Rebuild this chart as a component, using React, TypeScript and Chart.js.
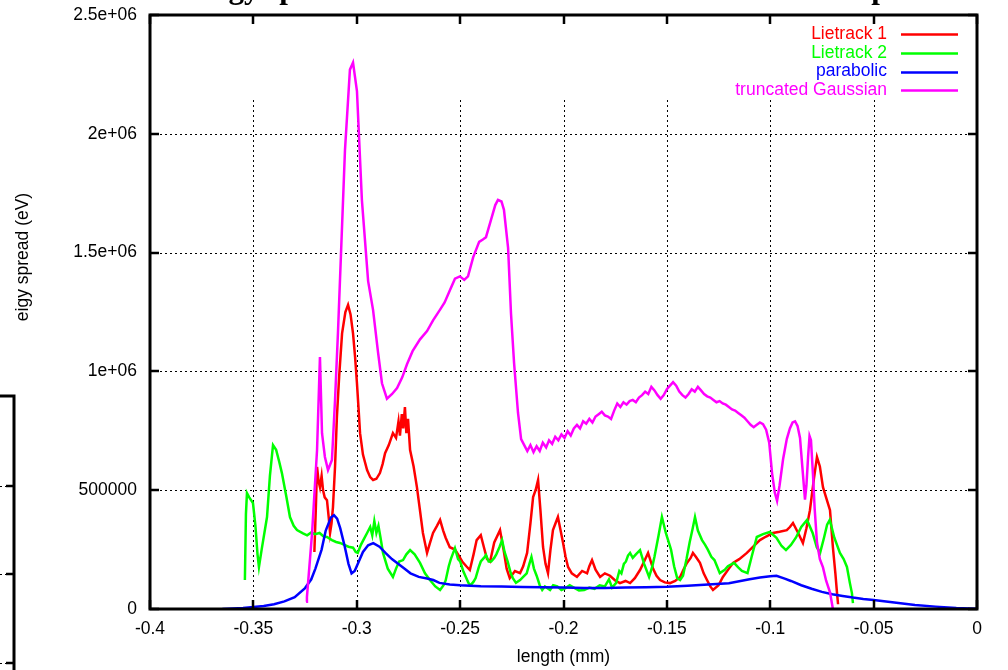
import React, { useEffect, useRef } from "react";
import { Chart, registerables } from "chart.js";

Chart.register(...registerables);

const titleText = "Energy spread at the end of the linac for different shapes";
const xAxisTitle = "length (mm)";
const yAxisTitle = "eigy spread (eV)";
const seriesNames = ["Lietrack 1", "Lietrack 2", "parabolic", "truncated Gaussian"];
const seriesColors = ["#ff0000", "#00ff00", "#0000ff", "#ff00ff"];
const xTickValues = [-0.4, -0.35, -0.3, -0.25, -0.2, -0.15, -0.1, -0.05, 0];
const xTickLabels = ["-0.4", "-0.35", "-0.3", "-0.25", "-0.2", "-0.15", "-0.1", "-0.05", "0"];
const yTickValues = [0, 500000, 1000000, 1500000, 2000000, 2500000];
const yTickLabels = ["0", "500000", "1e+06", "1.5e+06", "2e+06", "2.5e+06"];

const lietrack1Points: [number, number][] = [
  [-0.3205, 240000], [-0.3198, 420000], [-0.3192, 598000], [-0.3185, 540000], [-0.3178, 513000],
  [-0.317, 560000], [-0.3163, 500000], [-0.3155, 470000], [-0.3144, 458000], [-0.3135, 380000],
  [-0.3129, 320000], [-0.3122, 360000], [-0.3115, 429000], [-0.3105, 600000], [-0.3096, 808000],
  [-0.3085, 980000], [-0.3071, 1160000], [-0.3055, 1250000], [-0.3042, 1280000], [-0.303, 1240000],
  [-0.3018, 1160000], [-0.3008, 1060000], [-0.2999, 950000], [-0.2991, 840000], [-0.2984, 740000],
  [-0.297, 650000], [-0.295, 585000], [-0.2935, 555000], [-0.2921, 543000], [-0.2905, 548000],
  [-0.2888, 572000], [-0.2875, 610000], [-0.2863, 656000], [-0.2845, 690000], [-0.2825, 740000],
  [-0.281, 720000], [-0.2798, 790000], [-0.2791, 730000], [-0.2782, 820000], [-0.2775, 760000],
  [-0.2767, 850000], [-0.276, 740000], [-0.2752, 800000], [-0.2742, 669000], [-0.2725, 600000],
  [-0.2709, 513000], [-0.2695, 420000], [-0.268, 320000], [-0.266, 236000], [-0.2645, 280000],
  [-0.2631, 320000], [-0.2612, 350000], [-0.2597, 375000], [-0.2582, 330000], [-0.257, 300000],
  [-0.255, 260000], [-0.2525, 250000], [-0.251, 230000], [-0.249, 200000], [-0.247, 180000],
  [-0.2453, 164000], [-0.2435, 230000], [-0.242, 290000], [-0.24, 311000], [-0.2385, 260000],
  [-0.237, 210000], [-0.2355, 200000], [-0.2335, 280000], [-0.2307, 332000], [-0.229, 250000],
  [-0.2275, 170000], [-0.226, 130000], [-0.2235, 160000], [-0.221, 151000], [-0.2195, 180000],
  [-0.2176, 236000], [-0.216, 360000], [-0.2147, 471000], [-0.2135, 500000], [-0.2123, 543000],
  [-0.2112, 420000], [-0.2099, 261000], [-0.2087, 190000], [-0.2075, 151000], [-0.2063, 250000],
  [-0.2051, 332000], [-0.2039, 360000], [-0.2027, 387000], [-0.2014, 330000], [-0.2002, 278000],
  [-0.199, 220000], [-0.1978, 177000], [-0.196, 150000], [-0.1935, 135000], [-0.191, 160000],
  [-0.1886, 150000], [-0.1875, 180000], [-0.1862, 206000], [-0.1845, 165000], [-0.1823, 135000],
  [-0.18, 150000], [-0.1775, 140000], [-0.175, 120000], [-0.1727, 109000], [-0.17, 118000],
  [-0.1678, 109000], [-0.1655, 130000], [-0.163, 164000], [-0.161, 200000], [-0.1591, 236000],
  [-0.1578, 200000], [-0.1567, 170000], [-0.155, 140000], [-0.1533, 122000], [-0.151, 112000],
  [-0.1485, 109000], [-0.146, 118000], [-0.1436, 135000], [-0.142, 165000], [-0.1403, 194000],
  [-0.1385, 215000], [-0.1374, 236000], [-0.136, 220000], [-0.134, 194000], [-0.1322, 150000],
  [-0.1306, 122000], [-0.129, 95000], [-0.1277, 80000], [-0.125, 100000], [-0.1229, 135000],
  [-0.12, 170000], [-0.118, 194000], [-0.115, 210000], [-0.1113, 236000], [-0.108, 265000],
  [-0.105, 290000], [-0.102, 305000], [-0.0987, 320000], [-0.0955, 325000], [-0.092, 332000],
  [-0.0905, 345000], [-0.089, 362000], [-0.0865, 320000], [-0.0842, 278000], [-0.0825, 340000],
  [-0.0808, 416000], [-0.079, 540000], [-0.0774, 640000], [-0.076, 600000], [-0.0745, 513000],
  [-0.073, 470000], [-0.0711, 416000], [-0.0697, 260000], [-0.0685, 150000], [-0.0677, 67000],
  [-0.0672, 20000],
];

const lietrack2Points: [number, number][] = [
  [-0.3541, 122000], [-0.3536, 400000], [-0.3531, 488000], [-0.352, 470000], [-0.3502, 446000],
  [-0.349, 350000], [-0.348, 230000], [-0.3473, 177000], [-0.346, 250000], [-0.3434, 387000],
  [-0.342, 560000], [-0.3405, 690000], [-0.339, 670000], [-0.3375, 620000], [-0.3362, 572000],
  [-0.334, 470000], [-0.3323, 387000], [-0.3305, 350000], [-0.3289, 332000], [-0.326, 318000],
  [-0.324, 310000], [-0.322, 322000], [-0.3202, 315000], [-0.318, 320000], [-0.316, 305000],
  [-0.3144, 303000], [-0.312, 290000], [-0.31, 282000], [-0.3081, 278000], [-0.306, 270000],
  [-0.304, 262000], [-0.3018, 258000], [-0.3005, 240000], [-0.2995, 236000], [-0.298, 270000],
  [-0.2965, 295000], [-0.295, 320000], [-0.2935, 345000], [-0.2925, 310000], [-0.2915, 370000],
  [-0.2905, 320000], [-0.2895, 350000], [-0.2885, 300000], [-0.2873, 236000], [-0.285, 170000],
  [-0.2825, 135000], [-0.281, 170000], [-0.2795, 200000], [-0.2776, 206000], [-0.276, 230000],
  [-0.2742, 248000], [-0.272, 230000], [-0.2694, 194000], [-0.267, 150000], [-0.2646, 122000],
  [-0.262, 95000], [-0.2597, 80000], [-0.258, 100000], [-0.257, 120000], [-0.2555, 180000],
  [-0.2545, 210000], [-0.2525, 256000], [-0.251, 210000], [-0.25, 200000], [-0.2485, 160000],
  [-0.2475, 140000], [-0.246, 110000], [-0.245, 100000], [-0.2435, 115000], [-0.2425, 130000],
  [-0.241, 175000], [-0.24, 200000], [-0.2385, 215000], [-0.2375, 227000], [-0.2362, 200000],
  [-0.235, 200000], [-0.2335, 215000], [-0.2325, 230000], [-0.231, 260000], [-0.2297, 290000],
  [-0.2285, 240000], [-0.227, 200000], [-0.2255, 150000], [-0.2245, 130000], [-0.223, 110000],
  [-0.221, 122000], [-0.2195, 135000], [-0.2178, 150000], [-0.2165, 190000], [-0.2155, 219000],
  [-0.2143, 170000], [-0.213, 140000], [-0.2115, 100000], [-0.2103, 80000], [-0.209, 95000],
  [-0.2065, 80000], [-0.205, 100000], [-0.203, 95000], [-0.201, 80000], [-0.199, 88000],
  [-0.197, 100000], [-0.195, 90000], [-0.1925, 78000], [-0.19, 80000], [-0.1875, 90000],
  [-0.185, 85000], [-0.1825, 100000], [-0.18, 95000], [-0.178, 125000], [-0.1765, 90000],
  [-0.1745, 110000], [-0.173, 160000], [-0.172, 150000], [-0.1708, 190000], [-0.1698, 200000],
  [-0.1688, 225000], [-0.1678, 236000], [-0.1665, 215000], [-0.165, 230000], [-0.163, 248000],
  [-0.161, 190000], [-0.1586, 135000], [-0.157, 180000], [-0.156, 220000], [-0.154, 310000],
  [-0.1524, 387000], [-0.1505, 320000], [-0.148, 250000], [-0.1465, 180000], [-0.145, 130000],
  [-0.1436, 122000], [-0.1422, 140000], [-0.1405, 210000], [-0.139, 280000], [-0.1375, 340000],
  [-0.1364, 387000], [-0.135, 330000], [-0.133, 290000], [-0.1315, 270000], [-0.1302, 250000],
  [-0.1285, 220000], [-0.127, 206000], [-0.1255, 175000], [-0.1244, 151000], [-0.122, 165000],
  [-0.1205, 180000], [-0.1175, 194000], [-0.1155, 175000], [-0.1137, 160000], [-0.111, 151000],
  [-0.109, 220000], [-0.1065, 303000], [-0.1035, 315000], [-0.1002, 324000], [-0.097, 300000],
  [-0.0945, 265000], [-0.0924, 248000], [-0.09, 270000], [-0.0876, 300000], [-0.085, 345000],
  [-0.0822, 375000], [-0.0795, 320000], [-0.0775, 260000], [-0.0759, 236000], [-0.074, 300000],
  [-0.0725, 355000], [-0.0712, 375000], [-0.069, 300000], [-0.0663, 236000], [-0.0645, 210000],
  [-0.0629, 177000], [-0.0615, 110000], [-0.0605, 67000], [-0.06, 25000],
];

const parabolicPoints: [number, number][] = [
  [-0.365, 0], [-0.36, 2000], [-0.355, 4000], [-0.35, 8000], [-0.345, 13000], [-0.34, 20000],
  [-0.335, 32000], [-0.33, 50000], [-0.325, 88000], [-0.322, 125000], [-0.32, 170000],
  [-0.317, 250000], [-0.315, 330000], [-0.3125, 385000], [-0.311, 395000], [-0.3095, 380000],
  [-0.308, 340000], [-0.306, 270000], [-0.304, 190000], [-0.3025, 150000], [-0.301, 160000],
  [-0.299, 200000], [-0.297, 240000], [-0.2945, 268000], [-0.292, 277000], [-0.289, 262000],
  [-0.286, 235000], [-0.283, 210000], [-0.28, 190000], [-0.277, 170000], [-0.274, 150000],
  [-0.27, 135000], [-0.266, 128000], [-0.263, 122000], [-0.26, 110000], [-0.255, 103000],
  [-0.25, 100000], [-0.24, 96000], [-0.23, 95000], [-0.22, 93000], [-0.21, 92000], [-0.2, 90000],
  [-0.19, 88000], [-0.18, 88000], [-0.17, 90000], [-0.16, 92000], [-0.15, 94000], [-0.14, 98000],
  [-0.13, 103000], [-0.12, 108000], [-0.11, 125000], [-0.105, 133000], [-0.1, 138000],
  [-0.097, 140000], [-0.093, 128000], [-0.09, 118000], [-0.085, 100000], [-0.08, 85000],
  [-0.075, 72000], [-0.07, 62000], [-0.065, 55000], [-0.06, 48000], [-0.055, 42000],
  [-0.05, 38000], [-0.04, 27000], [-0.03, 17000], [-0.02, 10000], [-0.01, 4000], [0, 1000],
];

const truncatedGaussianPoints: [number, number][] = [
  [-0.3245, 30000], [-0.3241, 50000], [-0.3216, 320000], [-0.3192, 669000], [-0.3178, 1060000],
  [-0.3168, 740000], [-0.3154, 640000], [-0.3139, 585000], [-0.312, 627000], [-0.3105, 879000],
  [-0.3091, 1160000], [-0.3057, 1930000], [-0.3033, 2270000], [-0.3018, 2300000], [-0.2999, 2180000],
  [-0.2975, 1720000], [-0.2945, 1380000], [-0.2921, 1258000], [-0.2897, 1080000], [-0.2878, 950000],
  [-0.2854, 885000], [-0.2829, 905000], [-0.2805, 930000], [-0.278, 975000], [-0.2757, 1030000],
  [-0.273, 1085000], [-0.2694, 1135000], [-0.266, 1170000], [-0.2631, 1215000], [-0.2597, 1260000],
  [-0.2575, 1290000], [-0.255, 1340000], [-0.2525, 1390000], [-0.2501, 1400000], [-0.248, 1385000],
  [-0.2462, 1400000], [-0.2437, 1480000], [-0.2408, 1545000], [-0.239, 1555000], [-0.2375, 1565000],
  [-0.235, 1640000], [-0.233, 1700000], [-0.2317, 1722000], [-0.23, 1715000], [-0.2288, 1680000],
  [-0.2268, 1520000], [-0.2254, 1245000], [-0.2239, 1035000], [-0.222, 825000], [-0.2205, 715000],
  [-0.219, 690000], [-0.2175, 665000], [-0.216, 690000], [-0.2145, 660000], [-0.213, 685000],
  [-0.2115, 665000], [-0.21, 700000], [-0.2084, 680000], [-0.207, 710000], [-0.2055, 695000],
  [-0.204, 725000], [-0.2025, 710000], [-0.201, 735000], [-0.1995, 720000], [-0.198, 748000],
  [-0.1965, 730000], [-0.195, 760000], [-0.1935, 775000], [-0.192, 760000], [-0.1905, 790000],
  [-0.189, 780000], [-0.1875, 800000], [-0.186, 785000], [-0.1845, 810000], [-0.183, 820000],
  [-0.1815, 830000], [-0.18, 815000], [-0.1785, 810000], [-0.177, 800000], [-0.1755, 835000],
  [-0.174, 865000], [-0.1725, 850000], [-0.171, 870000], [-0.1695, 860000], [-0.168, 875000],
  [-0.1665, 880000], [-0.165, 870000], [-0.1635, 890000], [-0.162, 900000], [-0.1605, 915000],
  [-0.159, 905000], [-0.1575, 935000], [-0.156, 920000], [-0.1545, 900000], [-0.153, 885000],
  [-0.1515, 900000], [-0.15, 925000], [-0.1485, 940000], [-0.147, 955000], [-0.1455, 940000],
  [-0.144, 915000], [-0.1425, 900000], [-0.141, 890000], [-0.1395, 905000], [-0.138, 925000],
  [-0.1365, 915000], [-0.135, 935000], [-0.1335, 920000], [-0.132, 905000], [-0.1305, 895000],
  [-0.129, 890000], [-0.1275, 880000], [-0.126, 870000], [-0.1245, 875000], [-0.123, 865000],
  [-0.1215, 860000], [-0.12, 850000], [-0.1185, 840000], [-0.117, 835000], [-0.1155, 825000],
  [-0.114, 815000], [-0.1125, 805000], [-0.111, 790000], [-0.1095, 775000], [-0.108, 765000],
  [-0.1065, 775000], [-0.105, 785000], [-0.1035, 778000], [-0.102, 755000], [-0.1005, 700000],
  [-0.0991, 570000], [-0.0978, 490000], [-0.0967, 455000], [-0.0955, 520000], [-0.0938, 630000],
  [-0.092, 715000], [-0.0905, 760000], [-0.0892, 785000], [-0.088, 790000], [-0.0868, 770000],
  [-0.0856, 720000], [-0.0845, 600000], [-0.0832, 460000], [-0.0825, 520000], [-0.0817, 640000],
  [-0.081, 728000], [-0.0803, 710000], [-0.0793, 560000], [-0.0785, 420000], [-0.0774, 280000],
  [-0.076, 210000], [-0.0745, 175000], [-0.073, 120000], [-0.0711, 70000], [-0.0697, 0],
];

const seriesPoints = [lietrack1Points, lietrack2Points, parabolicPoints, truncatedGaussianPoints];
const drawOrder = [4, 3, 2, 1];

const FONT = '"Liberation Sans", Arial, sans-serif';

const gnuplotPlugin = {
  id: "gnuplotLook",
  beforeDatasetsDraw(chart: any) {
    const { ctx, chartArea: a, scales } = chart;
    const xs = scales.x;
    const ys = scales.y;
    ctx.save();
    ctx.strokeStyle = "#000";
    ctx.lineWidth = 1;
    ctx.setLineDash([2, 3]);
    ys.ticks.forEach((t: any) => {
      const y = Math.round(ys.getPixelForValue(t.value)) + 0.5;
      if (y <= a.top + 3 || y >= a.bottom - 3) return;
      ctx.beginPath();
      ctx.moveTo(a.left, y);
      ctx.lineTo(a.right, y);
      ctx.stroke();
    });
    const gridTop = a.top + 85;
    xs.ticks.forEach((t: any) => {
      const x = Math.round(xs.getPixelForValue(t.value)) + 0.5;
      if (x <= a.left + 3 || x >= a.right - 3) return;
      ctx.beginPath();
      ctx.moveTo(x, gridTop);
      ctx.lineTo(x, a.bottom);
      ctx.stroke();
    });
    ctx.restore();
  },
  afterDatasetsDraw(chart: any) {
    const { ctx, chartArea: a, scales } = chart;
    const xs = scales.x;
    const ys = scales.y;
    ctx.save();
    ctx.setLineDash([]);
    ctx.strokeStyle = "#000";
    ctx.lineWidth = 3;
    ctx.strokeRect(a.left, a.top, a.right - a.left, a.bottom - a.top);
    ctx.lineWidth = 2.5;
    const tl = 9;
    xs.ticks.forEach((t: any) => {
      const x = Math.round(xs.getPixelForValue(t.value));
      ctx.beginPath();
      ctx.moveTo(x, a.bottom);
      ctx.lineTo(x, a.bottom - tl);
      ctx.moveTo(x, a.top);
      ctx.lineTo(x, a.top + tl);
      ctx.stroke();
    });
    ys.ticks.forEach((t: any) => {
      const y = Math.round(ys.getPixelForValue(t.value));
      ctx.beginPath();
      ctx.moveTo(a.left, y);
      ctx.lineTo(a.left + tl, y);
      ctx.moveTo(a.right, y);
      ctx.lineTo(a.right - tl, y);
      ctx.stroke();
    });
    ctx.restore();
  },
  afterDraw(chart: any) {
    const { ctx, chartArea: a } = chart;
    ctx.save();
    // title (cropped at top of picture)
    ctx.fillStyle = "#000";
    ctx.font = 'bold 31px "Liberation Serif", "Times New Roman", serif';
    ctx.textAlign = "left";
    ctx.textBaseline = "alphabetic";
    ctx.fillText(titleText, 163, -2);
    // axis titles
    ctx.font = `17.5px ${FONT}`;
    ctx.textAlign = "center";
    ctx.textBaseline = "middle";
    ctx.fillText(xAxisTitle, (a.left + a.right) / 2, 657);
    ctx.save();
    ctx.translate(23, 257);
    ctx.rotate(-Math.PI / 2);
    ctx.fillText(yAxisTitle, 0, 0);
    ctx.restore();
    // legend (gnuplot style key)
    chart.data.datasets.forEach((ds: any, i: number) => {
      const y = a.top + 19 + i * 18.8;
      ctx.fillStyle = ds.borderColor;
      ctx.textAlign = "right";
      ctx.font = `17.5px ${FONT}`;
      ctx.fillText(ds.label, a.right - 90, y);
      ctx.strokeStyle = ds.borderColor;
      ctx.lineWidth = 2.5;
      ctx.beginPath();
      ctx.moveTo(a.right - 76, Math.round(y) + 0.5);
      ctx.lineTo(a.right - 19, Math.round(y) + 0.5);
      ctx.stroke();
    });
    // neighbouring panel edge at the left
    ctx.strokeStyle = "#000";
    ctx.lineWidth = 3;
    ctx.setLineDash([]);
    ctx.beginPath();
    ctx.moveTo(0, 396);
    ctx.lineTo(14, 396);
    ctx.lineTo(14, 672);
    ctx.stroke();
    ctx.lineWidth = 2.5;
    [486, 574, 663].forEach((y) => {
      ctx.beginPath();
      ctx.moveTo(14, y);
      ctx.lineTo(6, y);
      ctx.stroke();
    });
    ctx.lineWidth = 1;
    ctx.setLineDash([2, 3]);
    [486, 574, 663].forEach((y) => {
      ctx.beginPath();
      ctx.moveTo(0, y + 0.5);
      ctx.lineTo(6, y + 0.5);
      ctx.stroke();
    });
    ctx.restore();
  },
};

export default function App() {
  const ref = useRef<HTMLCanvasElement | null>(null);
  useEffect(() => {
    if (!ref.current) return;
    const datasets = seriesPoints.map((pts, i) => ({
      label: seriesNames[i],
      data: pts.map(([x, y]) => ({ x, y })),
      borderColor: seriesColors[i],
      backgroundColor: seriesColors[i],
      borderWidth: 2.5,
      pointRadius: 0,
      tension: 0,
      fill: false,
      order: drawOrder[i],
    }));
    const chart = new Chart(ref.current, {
      type: "line",
      data: { datasets },
      options: {
        animation: false,
        responsive: false,
        devicePixelRatio: 1,
        layout: { padding: { top: 15, right: 31, left: 0, bottom: 0 } },
        plugins: {
          legend: { display: false },
          title: { display: false },
          tooltip: { enabled: false },
        },
        scales: {
          x: {
            type: "linear",
            min: -0.4,
            max: 0,
            grid: { display: false, drawTicks: false },
            border: { display: false },
            afterBuildTicks: (s: any) => {
              s.ticks = xTickValues.map((v) => ({ value: v }));
            },
            afterFit: (s: any) => {
              s.height = 61;
              s.paddingLeft = 0;
              s.paddingRight = 0;
              s.paddingTop = 0;
              s.paddingBottom = 0;
            },
            ticks: {
              autoSkip: false,
              maxRotation: 0,
              padding: 10,
              color: "#000",
              font: { family: FONT, size: 17.5 },
              callback: (_v: any, i: number) => xTickLabels[i],
            },
          },
          y: {
            type: "linear",
            min: 0,
            max: 2500000,
            grid: { display: false, drawTicks: false },
            border: { display: false },
            afterBuildTicks: (s: any) => {
              s.ticks = yTickValues.map((v) => ({ value: v }));
            },
            afterFit: (s: any) => {
              s.width = 150;
              s.paddingLeft = 0;
              s.paddingRight = 0;
              s.paddingTop = 0;
              s.paddingBottom = 0;
            },
            ticks: {
              autoSkip: false,
              padding: 13,
              color: "#000",
              font: { family: FONT, size: 17.5 },
              callback: (_v: any, i: number) => yTickLabels[i],
            },
          },
        },
      },
      plugins: [gnuplotPlugin],
    } as any);
    return () => chart.destroy();
  }, []);
  return (
    <div style={{ position: "absolute", left: 0, top: 0, width: 1008, height: 670, background: "#fff" }}>
      <canvas ref={ref} width={1008} height={670} style={{ display: "block" }} />
    </div>
  );
}
